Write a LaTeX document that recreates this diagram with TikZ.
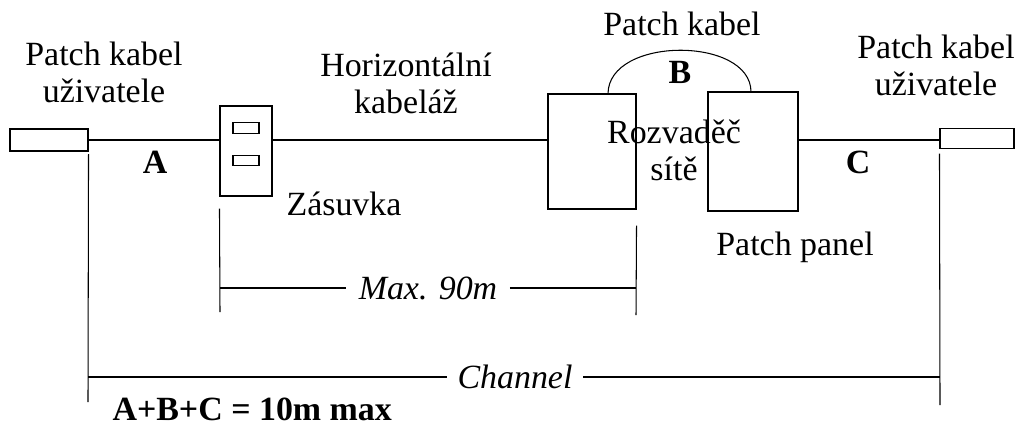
\documentclass[tikz,border=0pt]{standalone}
\usepackage{fontspec}
\setmainfont{Liberation Serif}
\usepackage{tikz}
\tikzset{
  box/.style={draw, inner sep=0pt},
  lbl/.style={font=\fontsize{19.3}{21}\selectfont, inner sep=0pt, anchor=base, align=center},
  blbl/.style={lbl, font=\fontsize{19.3}{21}\selectfont\bfseries},
  ilbl/.style={lbl, font=\fontsize{19.3}{21}\selectfont\itshape, inner xsep=0.24cm}
}

\begin{document}
\begin{tikzpicture}[line width=0.6pt]
\useasboundingbox (0,0) rectangle (20.42,-8.56);
\node[box, minimum width=1.56cm, minimum height=0.44cm] (lplug) at (0.98,-2.8) {};
\node[box, minimum width=1.04cm, minimum height=1.8cm] (outlet) at (4.92,-3.02) {};
\node[box, minimum width=0.52cm, minimum height=0.21cm] (slota) at (4.92,-2.56) {};
\node[box, minimum width=0.52cm, minimum height=0.21cm] (slotb) at (4.92,-3.21) {};
\node[box, minimum width=1.76cm, minimum height=2.3cm] (lpanel) at (11.84,-3.03) {};
\node[box, minimum width=1.8cm, minimum height=2.38cm] (rpanel) at (15.06,-3.03) {};
\node[box, minimum width=1.48cm, minimum height=0.4cm] (rplug) at (19.54,-2.77) {};
\node[lbl] (lcab) at (2.08,-2.04) {Patch kabel\\uživatele};
\node[lbl] (hcab) at (8.12,-2.26) {Horizontální\\kabeláž};
\node[lbl] (pcab) at (13.64,-0.7) {Patch kabel};
\node[lbl] (rozv) at (13.48,-3.6) {Rozvaděč\\sítě};
\node[lbl] (rcab) at (18.72,-1.9) {Patch kabel\\uživatele};
\node[lbl] (zas) at (6.88,-4.3) {Zásuvka};
\node[lbl] (ppan) at (15.9,-5.1) {Patch panel};
\node[blbl] (a) at (3.1,-3.46) {A};
\node[blbl] (b) at (13.6,-1.66) {B};
\node[blbl] (c) at (17.16,-3.46) {C};
\node[blbl, anchor=base west] (sum) at (2.24,-8.4) {A+B+C = 10m max};
\node[ilbl] (maxt) at (8.56,-5.98) {Max. 90m};
\node[ilbl, inner xsep=0.2cm] (chan) at (10.3,-7.76) {Channel};
\coordinate (pa) at (12.16,-1.88);
\coordinate (pb) at (15.02,-1.84);
\coordinate (chl) at (1.76,-8.04);
\coordinate (chr) at (18.8,-8.1);
\coordinate (mxl) at (4.4,-6.24);
\coordinate (mxr) at (12.72,-6.3);
\coordinate (ml) at (4.4,-5.76);
\coordinate (mr) at (12.72,-5.76);
\coordinate (cl) at (1.76,-7.54);
\coordinate (cr) at (18.8,-7.54);
\draw (lplug.east) -- (lplug.east -| outlet.west);
\draw (lplug.east -| outlet.east) -- (lplug.east -| lpanel.west);
\draw (lplug.east -| rpanel.east) -- (lplug.east -| rplug.west);
\draw (pa) .. controls (12.16,-0.72) and (15.02,-0.72) .. (pb);
\draw ([yshift=-0.05cm]lplug.south east) -- (chl);
\draw ([yshift=-0.09cm]rplug.south west) -- (chr);
\draw ([yshift=-0.24cm]outlet.south west) -- (mxl);
\draw ([yshift=-0.32cm]lpanel.south east) -- (mxr);
\draw (ml) -- (ml -| maxt.west);
\draw (maxt.east |- ml) -- (mr);
\draw (cl) -- (cl -| chan.west);
\draw (chan.east |- cl) -- (cr);
\end{tikzpicture}
\end{document}
